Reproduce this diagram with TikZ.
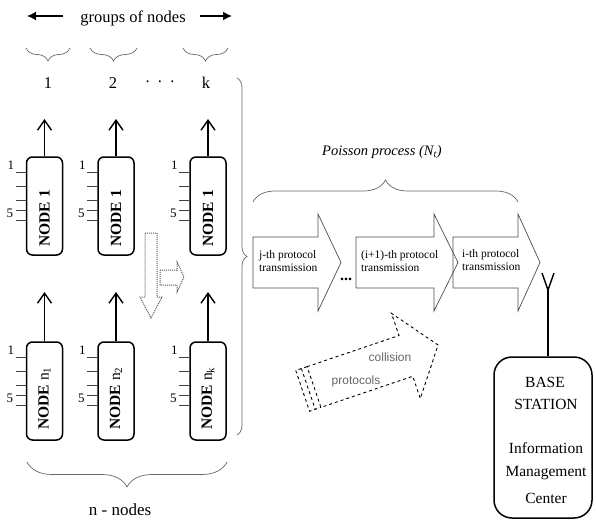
\documentclass[tikz,border=0pt]{standalone}
\usepackage{fontspec}
\setmainfont{Liberation Serif}
\setsansfont{Liberation Sans}
\usetikzlibrary{arrows.meta,decorations.pathreplacing,calc}
\begin{document}
\begin{tikzpicture}[x=1pt,y=-1pt,
  nodebox/.style={draw, line width=1.5pt, rounded corners=6pt, minimum width=36pt, minimum height=98pt, inner sep=0pt},
  nodelabel/.style={rotate=90, anchor=west, font=\fontsize{15.5}{15.5}\selectfont\bfseries, inner sep=0pt},
  uparrow/.style={line width=1.4pt, -{Straight Barb[length=10pt,width=14pt]}},
  toparrow/.style={line width=1.5pt, -{Latex[length=9pt,width=9pt]}},
  tickline/.style={line width=0.8pt, draw=black!75},
  ticklabel/.style={font=\fontsize{13}{13}\selectfont, inner sep=0pt},
  gbrace/.style={draw=black!60, line width=0.7pt, decorate, decoration={brace, amplitude=#1}},
  biglabel/.style={font=\fontsize{16.5}{16.5}\selectfont, inner sep=1pt},
  dotarrow/.style={draw=black!65, densely dotted, line width=1pt},
  bigarrow/.style={draw=black!70, line width=0.7pt},
  atext/.style={anchor=west, align=left, inner sep=0pt, font=\fontsize{11.5}{13}\selectfont},
  collarrow/.style={draw=black, dashed, line width=0.9pt},
  colltext/.style={font=\sffamily\fontsize{12}{12}\selectfont, text=black!60, inner sep=0pt},
  bstext/.style={font=\fontsize{15.5}{15.5}\selectfont, inner sep=0pt},
  antenna/.style={line width=1.4pt}
]
\useasboundingbox (0,0) rectangle (596,522);

% top legend
\node[biglabel] (groups) at (133,18) {groups of nodes};
\coordinate (gltail) at (63,16);
\coordinate (gltip) at (27,16);
\coordinate (grtail) at (200,16);
\coordinate (grtip) at (232,16);
\draw[toparrow] (gltail) -- (gltip);
\draw[toparrow] (grtail) -- (grtip);

% group braces and labels
\draw[gbrace=13] (70,48) -- (26,48);
\draw[gbrace=13] (137,48) -- (90,48);
\draw[gbrace=13] (228,48) -- (183,48);
\node[biglabel] (g1) at (48,83) {1};
\node[biglabel] (g2) at (113,83) {2};
\node[biglabel] (gdots) at (160,82) {.\ \ .\ \ .};
\node[biglabel] (gk) at (206,83) {k};

% node columns
\foreach \c/\x/\sub in {1/44.5/1, 2/116/2, k/208/k} {
  \node[nodebox] (up\c) at (\x,206) {};
  \node[nodebox] (lo\c) at (\x,391) {};
  \node[nodelabel] (upl\c) at ($(up\c.south)+(0,-9)$) {NODE 1};
  \node[nodelabel] (lol\c) at ($(lo\c.south)+(0,-11)$) {NODE {\mdseries n\textsubscript{\sub}}};
  \foreach \t in {16,30,44,54,64} {
    \draw[tickline] ($(up\c.north west)+(-10,\t)$) -- ($(up\c.north west)+(0,\t)$);
    \draw[tickline] ($(lo\c.north west)+(-10,\t)$) -- ($(lo\c.north west)+(0,\t)$);
  }
  \node[ticklabel] (upone\c) at ($(up\c.north west)+(-15,9)$) {1};
  \node[ticklabel] (upfive\c) at ($(up\c.north west)+(-16,57)$) {5};
  \node[ticklabel] (loone\c) at ($(lo\c.north west)+(-15,9)$) {1};
  \node[ticklabel] (lofive\c) at ($(lo\c.north west)+(-16,57)$) {5};
  \coordinate (uptip\c) at (\x,119);
  \coordinate (lotip\c) at (\x,292);
  \draw[uparrow] (up\c.north) -- (uptip\c);
  \draw[uparrow] (lo\c.north) -- (lotip\c);
}

% dotted block arrows
\draw[dotarrow] (145,233) -- (157,233) -- (157,297) -- (162,297) -- (151,318) -- (140,297) -- (145,297) -- cycle;
\draw[dotarrow] (160,270) -- (177,270) -- (177,262) -- (184,277) -- (177,292) -- (177,285) -- (160,285) -- cycle;

% right brace
\draw[gbrace=10] (237,78) -- (237,435);

% bottom brace
\draw[gbrace=25] (227,462) -- (27,462);
\node[font=\fontsize{17}{17}\selectfont] (nnodes) at (120,510) {n - nodes};

% Poisson process
\node[font=\fontsize{14.5}{14.5}\selectfont\itshape] (poisson) at (382,152) {Poisson process (N\textsubscript{t})};
\draw[gbrace=22] (253,202) -- (518,202);

% transmission arrows
\draw[bigarrow] (253,237) -- (318,237) -- (318,214) -- (341,262.5) -- (318,311) -- (318,288) -- (253,288) -- cycle;
\draw[bigarrow] (356,237) -- (434,237) -- (434,214) -- (458,262.5) -- (434,311) -- (434,288) -- (356,288) -- cycle;
\draw[bigarrow] (453,237) -- (518,237) -- (518,214) -- (540,262.5) -- (518,311) -- (518,288) -- (453,288) -- cycle;
\node[atext] (a1) at (259,261) {j-th protocol\\transmission};
\node[atext] (a2) at (361,261) {(i+1)-th protocol\\transmission};
\node[atext] (a3) at (462,260) {i-th protocol\\transmission};
\node[font=\fontsize{16}{16}\selectfont\bfseries, inner sep=0pt] (adots) at (346,279) {...};

% collision arrow
\begin{scope}[shift={(314,387)}, rotate=18.7]
  \draw[collarrow] (0,-21.5) -- (97,-21.5) -- (97,-45) -- (131,0) -- (97,45) -- (97,21.5) -- (0,21.5) -- cycle;
  \draw[collarrow] (0,-21.5) -- (-6,-21.5) -- (-6,21.5) -- (0,21.5);
  \draw[collarrow] (-6,-21.5) -- (-12,-21.5) -- (-12,21.5) -- (-6,21.5);
\end{scope}
\node[colltext] (coll) at (390,357) {collision};
\node[colltext] (prot) at (356,381) {protocols};

% base station
\node[draw, line width=1.5pt, rounded corners=18pt, minimum width=98pt, minimum height=161pt, inner sep=0pt] (bs) at (543,437.5) {};
\node[bstext] (bs1) at (545,382) {BASE};
\node[bstext] (bs2) at (546,404) {STATION};
\node[bstext] (bs3) at (546,448) {Information};
\node[bstext] (bs4) at (546,473) {Management};
\node[bstext] (bs5) at (546,498) {Center};
\coordinate (ant) at (548,290);
\draw[antenna] (bs.north -| ant) -- (ant);
\coordinate (antl) at (542,273);
\coordinate (antr) at (554,273);
\draw[antenna] (ant) -- (antl);
\draw[antenna] (ant) -- (antr);
\end{tikzpicture}
\end{document}
